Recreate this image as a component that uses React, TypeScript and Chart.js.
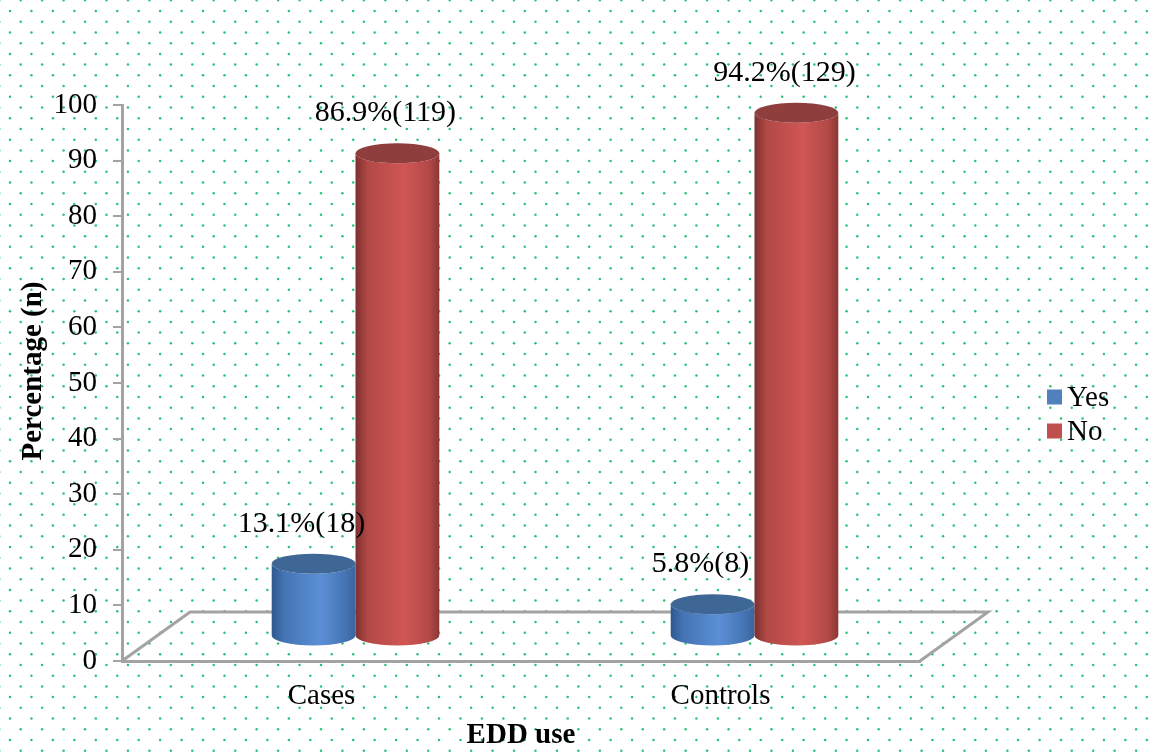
import React, { useEffect, useRef } from 'react';
import { Chart, registerables } from 'chart.js';

Chart.register(...registerables);

// ---- data ----
const categories = ['Cases', 'Controls'];
const seriesNames = ['Yes', 'No'];
const yesPercent = [13.1, 5.8];
const noPercent = [86.9, 94.2];
const yesCounts = [18, 8];
const noCounts = [119, 129];
const yMin = 0;
const yMax = 100;
const yStep = 10;
const xTitle = 'EDD use';
const yTitle = 'Percentage (n)';

// ---- styles ----
const FONT = "'Liberation Serif', 'Times New Roman', serif";
const AXIS_GRAY = '#a3a3a3';
const legendColors = ['#4f81bd', '#c0504d'];
const cylColors = [
  { edge: '#2d5890', mid: '#4574b3', light: '#5b8fd5', edge2: '#3a659d', top: '#3f6796' },
  { edge: '#7c302f', mid: '#b24946', light: '#d05655', edge2: '#8b3735', top: '#8e3e3c' },
];
const DEPTH_X = 68;
const DEPTH_Y = -49;

function drawCylinder(ctx: CanvasRenderingContext2D, cx: number, top: number, base: number, w: number, c: any) {
  const rx = w / 2;
  const ry = 10;
  const l = cx - rx;
  const r = cx + rx;
  const g = ctx.createLinearGradient(l, 0, r, 0);
  g.addColorStop(0, c.edge);
  g.addColorStop(0.15, c.mid);
  g.addColorStop(0.58, c.light);
  g.addColorStop(0.88, c.mid);
  g.addColorStop(1, c.edge2);
  ctx.save();
  ctx.beginPath();
  ctx.moveTo(l, top);
  ctx.lineTo(l, base);
  ctx.ellipse(cx, base, rx, ry, 0, Math.PI, 0, true);
  ctx.lineTo(r, top);
  ctx.ellipse(cx, top, rx, ry, 0, 0, Math.PI, false);
  ctx.closePath();
  ctx.fillStyle = g;
  ctx.fill();
  ctx.beginPath();
  ctx.ellipse(cx, top, rx, ry, 0, 0, Math.PI * 2);
  ctx.fillStyle = c.top;
  ctx.fill();
  ctx.restore();
}

const cylinderPlugin = {
  id: 'cylinders',
  beforeDraw(chart: any) {
    const { ctx, width, height } = chart;
    ctx.save();
    ctx.fillStyle = '#ffffff';
    ctx.fillRect(0, 0, width, height);
    ctx.fillStyle = '#27c474';
    const dxs = 21.45;
    const dys = 10.72;
    for (let r = 0; r * dys < height + dys; r++) {
      const y = 0.3 + r * dys;
      const off = r % 2 === 1 ? 10 : 20.7;
      for (let x = off - dxs; x < width + dxs; x += dxs) {
        ctx.beginPath();
        ctx.arc(x, y, 1.25, 0, Math.PI * 2);
        ctx.fill();
      }
    }
    ctx.restore();
  },
  beforeDatasetsDraw(chart: any) {
    const { ctx, chartArea: a } = chart;
    // floor
    ctx.save();
    ctx.strokeStyle = AXIS_GRAY;
    ctx.lineWidth = 3;
    ctx.beginPath();
    ctx.moveTo(a.left, a.bottom);
    ctx.lineTo(a.left + DEPTH_X, a.bottom + DEPTH_Y);
    ctx.lineTo(a.right + DEPTH_X, a.bottom + DEPTH_Y);
    ctx.lineTo(a.right, a.bottom);
    ctx.stroke();
    ctx.restore();

    const dx = DEPTH_X / 2;
    const dy = DEPTH_Y / 2;
    const counts = [yesCounts, noCounts];
    const labels: any[] = [];
    chart.data.datasets.forEach((ds: any, di: number) => {
      const meta = chart.getDatasetMeta(di);
      meta.data.forEach((el: any, i: number) => {
        const p = el.getProps(['x', 'y', 'base', 'width'], true);
        const cx = p.x + dx;
        const top = p.y + dy;
        drawCylinder(ctx, cx, top, p.base + dy, p.width, cylColors[di]);
        labels.push({ x: cx - 12, y: top - 40, t: `${ds.data[i]}%(${counts[di][i]})` });
      });
    });
    ctx.save();
    ctx.font = `30px ${FONT}`;
    ctx.fillStyle = '#000';
    ctx.textAlign = 'center';
    ctx.textBaseline = 'middle';
    labels.forEach((lb) => ctx.fillText(lb.t, lb.x, lb.y));
    ctx.restore();
    return false;
  },
  afterDraw(chart: any) {
    const { ctx, chartArea: a } = chart;
    ctx.save();
    ctx.fillStyle = '#000';
    // axis titles
    ctx.font = `bold 29px ${FONT}`;
    ctx.textAlign = 'center';
    ctx.textBaseline = 'middle';
    ctx.fillText(xTitle, (a.left + a.right) / 2, 736);
    ctx.save();
    ctx.translate(34, 371);
    ctx.rotate(-Math.PI / 2);
    ctx.fillText(yTitle, 0, 0);
    ctx.restore();
    // legend
    ctx.font = `29px ${FONT}`;
    ctx.textAlign = 'left';
    chart.data.datasets.forEach((ds: any, di: number) => {
      const cy = 397 + di * 34;
      ctx.fillStyle = legendColors[di];
      ctx.fillRect(1047, cy - 7.5, 15, 15);
      ctx.fillStyle = '#000';
      ctx.fillText(ds.label, 1067, cy + 1);
    });
    ctx.restore();
  },
};

export default function App() {
  const ref = useRef<HTMLCanvasElement | null>(null);
  useEffect(() => {
    document.body.style.margin = '0';
    const canvas = ref.current;
    if (!canvas) return;
    const chart = new Chart(canvas, {
      type: 'bar',
      data: {
        labels: categories,
        datasets: [
          { label: seriesNames[0], data: yesPercent, backgroundColor: legendColors[0], categoryPercentage: 0.42, barPercentage: 1 },
          { label: seriesNames[1], data: noPercent, backgroundColor: legendColors[1], categoryPercentage: 0.42, barPercentage: 1 },
        ],
      },
      options: {
        responsive: false,
        animation: false,
        devicePixelRatio: 1,
        layout: { padding: { left: 0, top: 105, right: 235, bottom: 0 } },
        plugins: { legend: { display: false }, tooltip: { enabled: false } },
        scales: {
          x: {
            grid: { display: false, drawTicks: false },
            border: { display: true, color: AXIS_GRAY, width: 3 },
            ticks: { font: { family: FONT, size: 29 }, color: '#000', padding: 18 },
            afterFit: (s: any) => { s.height = 92; },
          },
          y: {
            min: yMin,
            max: yMax,
            ticks: { stepSize: yStep, font: { family: FONT, size: 29 }, color: '#000', padding: 16 },
            grid: { drawOnChartArea: false, drawTicks: true, tickLength: 9, color: AXIS_GRAY, lineWidth: 2 },
            border: { display: true, color: AXIS_GRAY, width: 3 },
            afterFit: (s: any) => { s.width = 122; },
          },
        },
      } as any,
      plugins: [cylinderPlugin as any],
    });
    return () => chart.destroy();
  }, []);
  return <canvas ref={ref} width={1155} height={753} style={{ display: 'block', width: 1155, height: 753 }} />;
}
